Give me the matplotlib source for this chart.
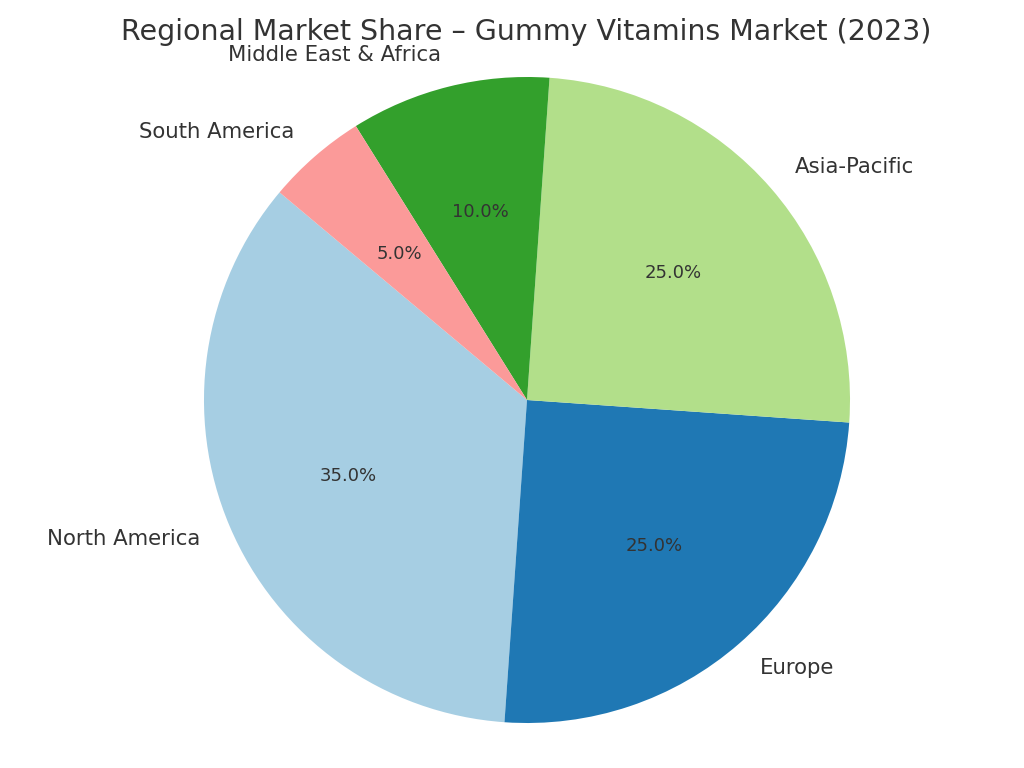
import matplotlib

matplotlib.use("Agg")

import matplotlib.pyplot as plt

regions = ["North America", "Europe", "Asia-Pacific", "Middle East & Africa", "South America"]
shares = [35, 25, 25, 10, 5]
colors = ["#a6cee3", "#1f78b4", "#b2df8a", "#33a02c", "#fb9a99"]
title = "Regional Market Share \u2013 Gummy Vitamins Market (2023)"

text_color = "#333333"

fig = plt.figure(figsize=(10.24, 7.68), dpi=100)
ax = fig.add_axes([187 / 1024, 28 / 768, 680 / 1024, 680 / 768])

wedges, texts, autotexts = ax.pie(
    shares,
    labels=regions,
    colors=colors,
    autopct="%1.1f%%",
    startangle=140,
    textprops={"color": text_color, "fontsize": 15.3},
)
for t in autotexts:
    t.set_fontsize(13)

ax.set_aspect("equal")
ax.set_xlim(-1.0526, 1.0526)
ax.set_ylim(-1.0526, 1.0526)
ax.axis("off")

fig.text(526 / 1024, 1 - 32 / 768, title, ha="center", va="center",
         fontsize=20.5, color=text_color)

fig.savefig("out.png", dpi=100)
